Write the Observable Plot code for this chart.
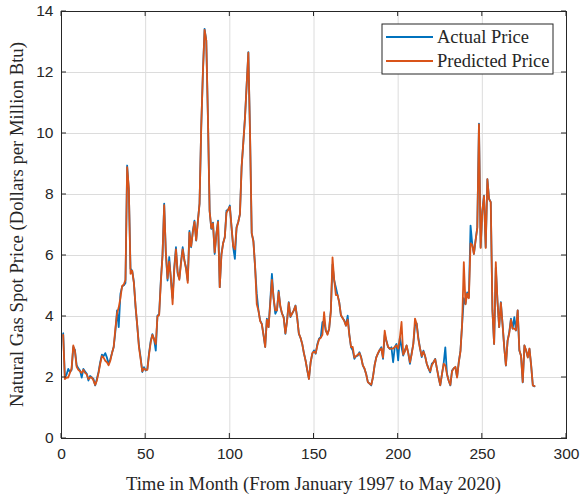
<!DOCTYPE html>
<html>
<head>
<meta charset="utf-8">
<script src="https://cdn.jsdelivr.net/npm/d3@7"></script>
<script src="https://cdn.jsdelivr.net/npm/@observablehq/plot@0.6"></script>
<style>
  html, body { margin: 0; padding: 0; background: #fff; }
  #chart svg { display: block; }
</style>
</head>
<body>
<div id="chart"></div>
<script>
// Monthly natural gas spot price, index 1..281 (Jan 1997 - May 2020)
const actualPrice = [
  3.45,2.00,2.10,2.28,2.18,2.25,3.00,2.90,2.40,2.30,
  2.23,2.00,2.28,2.20,2.12,1.90,2.05,2.00,1.95,1.74,
  1.95,2.18,2.50,2.75,2.70,2.80,2.65,2.45,2.60,2.80,
  3.00,3.50,4.20,3.65,4.74,4.98,5.02,5.10,8.95,8.13,
  5.57,5.50,5.13,4.30,3.70,3.05,2.66,2.18,2.34,2.23,
  2.28,2.80,3.20,3.42,3.26,2.88,4.03,4.08,5.18,6.00,
  7.70,6.05,5.18,5.95,5.20,4.60,5.62,6.27,5.40,5.24,
  5.80,6.27,5.84,5.60,5.18,6.81,6.27,6.80,7.14,6.49,
  7.14,7.70,10.20,12.00,13.43,13.05,10.50,7.47,6.87,7.08,
  6.05,6.71,7.14,4.96,6.05,6.40,6.60,7.47,7.50,7.64,
  6.93,6.27,5.89,6.93,7.10,7.36,8.90,9.70,10.53,11.60,
  12.67,10.00,6.71,6.49,5.62,4.74,4.20,3.87,3.76,3.40,
  3.00,3.93,3.65,4.50,5.40,4.60,4.09,4.20,4.85,4.31,
  4.10,3.98,3.43,3.87,4.47,3.98,4.10,4.20,4.36,3.98,
  3.43,3.30,3.10,2.80,2.56,2.23,1.96,2.50,2.78,2.89,
  2.78,3.10,3.27,3.32,3.81,3.85,3.54,3.43,3.60,4.20,
  5.70,5.18,4.95,4.70,4.47,4.03,3.95,3.87,3.70,4.03,
  3.40,2.99,2.89,2.61,2.70,2.72,2.83,2.67,2.40,2.28,
  2.12,1.85,1.80,1.74,2.01,2.40,2.67,2.78,2.90,2.99,
  2.61,3.40,3.21,3.00,2.94,2.99,2.50,3.00,3.10,2.56,
  3.32,3.00,2.72,2.90,3.05,2.80,2.45,2.80,3.10,3.70,
  3.77,3.30,2.95,2.67,2.88,2.70,2.45,2.30,2.17,2.45,
  2.50,2.61,2.30,2.01,1.74,2.10,2.45,2.99,2.12,1.90,
  1.74,2.23,2.30,2.34,2.01,2.50,2.88,3.76,4.60,4.41,
  4.79,4.63,6.98,6.38,6.05,6.50,6.93,10.32,6.27,7.47,
  7.96,6.27,8.50,7.86,7.75,4.20,3.10,5.60,4.50,3.65,
  4.47,3.76,3.00,2.39,3.21,3.49,3.93,3.60,3.98,3.54,
  4.20,2.88,2.72,1.84,3.05,2.88,2.67,2.94,2.40,1.74,
  1.71
];
const predictedPrice = [
  3.40,1.95,2.00,2.00,2.15,2.30,3.05,2.85,2.35,2.25,
  2.20,2.15,2.25,2.15,2.10,1.95,2.00,2.00,1.90,1.76,
  1.90,2.15,2.45,2.70,2.65,2.55,2.50,2.40,2.55,2.80,
  3.00,3.60,4.10,4.30,4.60,5.00,5.05,5.20,8.90,8.20,
  5.40,5.50,5.10,4.35,3.70,3.00,2.60,2.20,2.30,2.25,
  2.25,2.75,3.15,3.40,3.25,3.10,4.00,4.05,5.10,6.00,
  7.65,6.10,5.25,5.80,5.25,4.40,5.55,6.20,5.45,5.20,
  5.75,6.20,5.85,5.55,5.10,6.75,6.30,6.75,7.10,6.50,
  7.10,7.70,10.20,12.00,13.40,13.05,10.50,7.45,6.90,7.05,
  6.10,6.70,7.10,4.96,6.00,6.40,6.60,7.40,7.50,7.60,
  6.95,6.30,6.20,6.90,7.10,7.35,8.90,9.70,10.50,11.60,
  12.65,10.00,6.75,6.45,5.65,4.40,4.20,3.85,3.75,3.40,
  3.00,3.90,3.65,4.40,5.20,4.60,4.20,4.20,4.80,4.35,
  4.10,3.95,3.45,3.85,4.45,4.00,4.10,4.20,4.35,3.95,
  3.45,3.30,3.10,2.80,2.55,2.25,1.95,2.50,2.80,2.85,
  2.80,3.05,3.25,3.30,3.40,4.14,3.55,3.40,3.60,4.15,
  5.94,5.20,4.70,4.70,4.45,4.05,3.95,3.85,3.70,3.90,
  3.40,3.00,3.00,2.65,2.70,2.75,2.80,2.65,2.40,2.30,
  2.10,1.85,1.80,1.76,2.00,2.40,2.65,2.80,2.90,2.95,
  2.65,3.54,3.20,3.00,2.95,2.95,2.95,3.00,3.05,2.95,
  3.30,3.82,2.75,2.85,3.05,2.80,2.50,2.75,3.10,3.93,
  3.75,3.25,2.95,2.70,2.85,2.70,2.45,2.30,2.20,2.40,
  2.50,2.60,2.30,2.00,1.75,2.10,2.45,2.40,2.10,1.90,
  1.76,2.20,2.30,2.35,2.00,2.50,2.85,3.76,5.78,4.40,
  4.75,4.60,6.40,6.35,6.05,6.50,6.90,10.30,6.25,7.45,
  7.95,6.25,8.50,7.85,7.75,4.20,3.10,5.78,4.50,3.65,
  4.45,3.75,3.00,2.40,3.20,3.45,3.90,3.60,3.60,3.55,
  4.20,2.90,2.70,1.85,3.05,2.90,2.65,2.95,2.40,1.74,
  1.72
];
const xTicks = [0, 50, 100, 150, 200, 250, 300];
const yTicks = [0, 2, 4, 6, 8, 10, 12, 14];
const seriesNames = ["Actual Price", "Predicted Price"];
const seriesColors = ["#0072BD", "#D95319"];
const xLabel = "Time in Month (From January 1997 to May 2020)";
const yLabel = "Natural Gas Spot Price (Dollars per Million Btu)";

const rows = [];
actualPrice.forEach((v, i) => rows.push({month: i + 1, price: v, series: seriesNames[0]}));
predictedPrice.forEach((v, i) => rows.push({month: i + 1, price: v, series: seriesNames[1]}));

const axisColor = "#262626";
const W = 587, H = 498;
const mL = 61, mR = 21, mT = 11, mB = 60;

const plot = Plot.plot({
  width: W,
  height: H,
  marginLeft: mL,
  marginRight: mR,
  marginTop: mT,
  marginBottom: mB,
  style: {fontFamily: "'Liberation Sans', Arial, sans-serif", fontSize: "15.5px", color: axisColor, background: "#fff"},
  x: {domain: [0, 300], ticks: xTicks},
  y: {domain: [0, 14], ticks: yTicks},
  color: {domain: seriesNames, range: seriesColors},
  marks: [
    Plot.gridX(xTicks, {stroke: "#dcdcdc", strokeOpacity: 1, strokeWidth: 1}),
    Plot.gridY(yTicks, {stroke: "#dcdcdc", strokeOpacity: 1, strokeWidth: 1}),
    Plot.axisX(xTicks, {anchor: "bottom", tickSize: 0, tickPadding: 9, label: null, fontSize: 15.5, fill: axisColor}),
    Plot.axisY(yTicks, {anchor: "left", tickSize: 0, tickPadding: 8, label: null, fontSize: 15.5, fill: axisColor}),
    Plot.lineY(rows, {x: "month", y: "price", stroke: "series", z: "series", strokeWidth: 1.8, strokeLinejoin: "round"}),
    Plot.frame({stroke: axisColor, strokeWidth: 1})
  ]
});

const svg = d3.select(plot);
// inward tick marks on all four sides (from the plot's own scales)
const sx = plot.scale("x"), sy = plot.scale("y");
const tk = svg.append("g").attr("stroke", axisColor).attr("stroke-width", 1);
const x0 = sx.apply(0), x1 = sx.apply(300), y0 = sy.apply(0), y1 = sy.apply(14);
xTicks.forEach(t => {
  const x = sx.apply(t);
  tk.append("line").attr("x1", x).attr("x2", x).attr("y1", y0).attr("y2", y0 - 5);
  tk.append("line").attr("x1", x).attr("x2", x).attr("y1", y1).attr("y2", y1 + 5);
});
yTicks.forEach(t => {
  const y = sy.apply(t);
  tk.append("line").attr("x1", x0).attr("x2", x0 + 5).attr("y1", y).attr("y2", y);
  tk.append("line").attr("x1", x1).attr("x2", x1 - 5).attr("y1", y).attr("y2", y);
});

// axis titles
const serif = "'Liberation Serif', 'Times New Roman', serif";
svg.append("text")
  .attr("x", (x0 + x1) / 2).attr("y", 490)
  .attr("text-anchor", "middle")
  .attr("font-family", serif).attr("font-size", 18.7).attr("fill", axisColor)
  .text(xLabel);
svg.append("text")
  .attr("transform", `translate(23,${(y0 + y1) / 2}) rotate(-90)`)
  .attr("text-anchor", "middle")
  .attr("font-family", serif).attr("font-size", 18.7).attr("fill", axisColor)
  .text(yLabel);

// legend
const lg = svg.append("g");
lg.append("rect").attr("x", 382).attr("y", 24).attr("width", 171).attr("height", 50)
  .attr("fill", "#fff").attr("stroke", axisColor).attr("stroke-width", 1);
seriesNames.forEach((name, i) => {
  const yy = 37 + i * 24;
  lg.append("line").attr("x1", 386).attr("x2", 433).attr("y1", yy).attr("y2", yy)
    .attr("stroke", seriesColors[i]).attr("stroke-width", 2);
  lg.append("text").attr("x", 437).attr("y", yy + 6)
    .attr("text-anchor", "start")
    .attr("font-family", serif).attr("font-size", 18.5).attr("fill", axisColor)
    .text(name);
});

document.getElementById("chart").appendChild(plot);
</script>
</body>
</html>
